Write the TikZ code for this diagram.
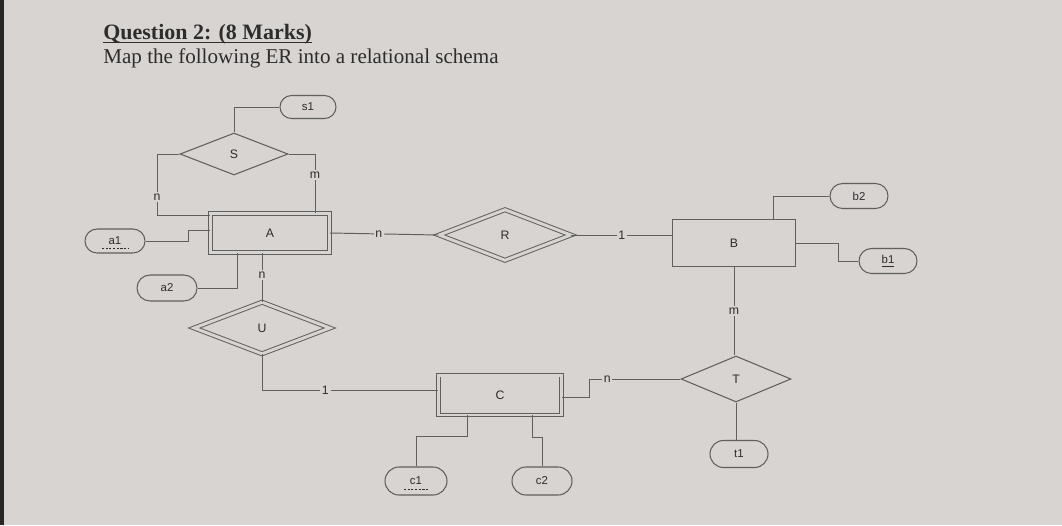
\documentclass[tikz,border=0pt]{standalone}
\usepackage{fontspec}
\setmainfont{Liberation Serif}
\setsansfont{Liberation Sans}
\usepackage{tikz}
\usetikzlibrary{shapes.geometric, shapes.misc, positioning, calc}
\definecolor{paper}{RGB}{215,212,209}
\definecolor{ink}{RGB}{45,45,45}
\definecolor{pen}{RGB}{95,95,95}
\tikzset{
    ent_box/.style={
        rectangle, draw=pen, line width=0.6pt, inner sep=0pt,
        minimum width=2.46cm, minimum height=0.94cm,
        font=\sffamily\fontsize{7}{8}\selectfont, text=ink
    },
    weak_box/.style={
        ent_box, double=paper, double distance=1.7pt, line width=0.55pt
    },
    rel_dia/.style={
        diamond, draw=pen, line width=0.6pt, inner sep=0pt,
        minimum width=2.2cm, minimum height=0.92cm,
        font=\sffamily\fontsize{7}{8}\selectfont, text=ink
    },
    id_dia/.style={
        rel_dia, double=paper, double distance=1.7pt, line width=0.55pt
    },
    attr_pill/.style={
        rounded rectangle, draw=pen, line width=0.6pt, inner sep=0pt,
        minimum width=1.16cm, minimum height=0.5cm,
        font=\sffamily\fontsize{6.5}{7.5}\selectfont, text=ink
    },
    conn/.style={draw=pen, line width=0.55pt},
    card/.style={
        font=\sffamily\fontsize{7}{8}\selectfont, text=ink,
        fill=paper, inner sep=1pt
    },
    part_key/.style={draw=ink, line width=0.4pt, dash pattern=on 1.2pt off 0.9pt}
}

\begin{document}
\begin{tikzpicture}[x=0.02cm, y=-0.02cm]

    \fill[paper] (0,0) rectangle (1062,525);
    \fill[black!85] (0,0) rectangle (4,525);
    \useasboundingbox (0,0) rectangle (1062,525);

    \node[anchor=base west, text=ink, font=\fontsize{12.5}{14}\selectfont\bfseries, inner sep=0pt] (title) at (103,39) {Question 2: (8 Marks)};
    \draw[ink, line width=0.8pt] ($(title.base west)+(0,3.5)$) -- ($(title.base east)+(0,3.5)$);
    \node[anchor=base west, text=ink, font=\fontsize{12}{14}\selectfont, inner sep=0pt] (task) at (103,63) {Map the following ER into a relational schema};

    \node[rel_dia, minimum width=2.16cm, minimum height=0.84cm] (S) at (234,154) {S};
    \node[attr_pill, minimum width=1.12cm, minimum height=0.46cm] (s1) at (308,107) {s1};
    \node[weak_box, minimum width=2.38cm, minimum height=0.78cm] (A) at (270,233) {A};
    \node[attr_pill, minimum width=1.2cm, minimum height=0.48cm] (a1) at (115,241) {a1};
    \node[attr_pill, minimum width=1.2cm, minimum height=0.52cm] (a2) at (167,288) {a2};
    \node[id_dia, minimum width=2.64cm, minimum height=1.02cm] (R) at (505,235) {R};
    \node[ent_box] (B) at (734,243) {B};
    \node[attr_pill] (b2) at (859,196) {b2};
    \node[attr_pill] (b1) at (888,261) {\underline{b1}};
    \node[id_dia, minimum width=2.72cm, minimum height=1.04cm] (U) at (262,328) {U};
    \node[rel_dia] (T) at (736,379) {T};
    \node[attr_pill, minimum height=0.54cm] (t1) at (739,454) {t1};
    \node[weak_box, minimum width=2.46cm, minimum height=0.8cm] (C) at (500,395) {C};
    \node[attr_pill, minimum width=1.24cm, minimum height=0.56cm] (c1) at (416,481) {c1};
    \node[attr_pill, minimum width=1.2cm, minimum height=0.56cm] (c2) at (542,481) {c2};

    % partial keys
    \draw[part_key] ($(a1.center)+(-13,7)$) -- ++(26,0);
    \draw[part_key] ($(c1.center)+(-12,8)$) -- ++(24,0);

    \draw[conn] (S.north) |- (s1.west);
    \draw[conn] (S.west) -| node[card, pos=0.85] {n} (157,215) -- (A.west |- 157,215);
    \draw[conn] (S.east) -| node[card, pos=0.68] {m} (315,0 |- A.north);
    \draw[conn] (a1.east) -| (188,230) -- (A.west |- 188,230);
    \draw[conn] (237,0 |- A.south) |- (a2.east);
    \draw[conn] (U.north |- A.south) -- node[card, pos=0.45] {n} (U.north);
    \draw[conn] (A.east) -- node[card, pos=0.45] {n} (R.west);
    \draw[conn] (R.east) -- node[card] {1} (R.east -| B.west);
    \draw[conn] (773,0 |- B.north) |- (b2.west);
    \draw[conn] (B.east) -| (838,0 |- b1.west) -- (b1.west);
    \draw[conn] (B.south) -- node[card] {m} (B.south |- T.north);
    \draw[conn] (T.south) -- (T.south |- t1.north);
    \draw[conn] (T.west) -| node[card, pos=0.4] {n} (589,397) -- (C.east |- 589,397);
    \draw[conn] (U.south) |- node[card, pos=0.68] {1} (C.west |- 0,390);
    \draw[conn] (467,0 |- C.south) -- (467,436) -| (c1.north);
    \draw[conn] (532,0 |- C.south) -- (532,437) -| (c2.north);

\end{tikzpicture}
\end{document}
